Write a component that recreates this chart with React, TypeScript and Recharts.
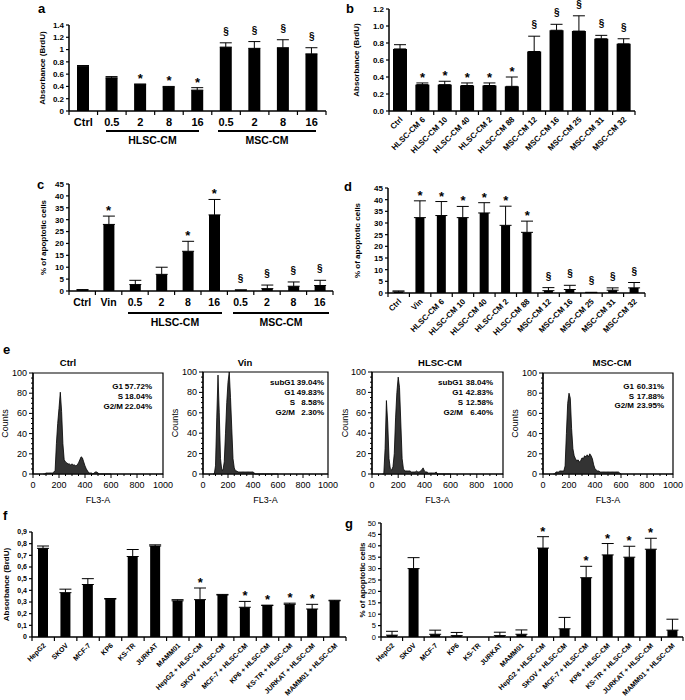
import React from "react";
import {
  ComposedChart,
  Bar,
  ErrorBar,
  Line,
  XAxis,
  YAxis,
  AreaChart,
  Area,
  ReferenceArea,
} from "recharts";

const FONT = '"Liberation Sans", Arial, Helvetica, sans-serif';

// ---- a: BrdU with HLSC-CM / MSC-CM doses
const aLabels = ["Ctrl", "0.5", "2", "8", "16", "0.5", "2", "8", "16"];
const aValues = [0.73, 0.54, 0.43, 0.39, 0.34, 1.04, 1.02, 1.03, 0.93];
const aErrors = [0.01, 0.02, 0.01, 0.01, 0.04, 0.07, 0.11, 0.13, 0.1];
const aMarks = ["", "", "*", "*", "*", "§", "§", "§", "§"];
const aTicks = [0, 0.2, 0.4, 0.6, 0.8, 1, 1.2, 1.4];

// ---- b: BrdU with single preparations
const bLabels = [
  "Ctrl", "HLSC-CM 6", "HLSC-CM 10", "HLSC-CM 40", "HLSC-CM 2", "HLSC-CM 88",
  "MSC-CM 12", "MSC-CM 16", "MSC-CM 25", "MSC-CM 31", "MSC-CM 32",
];
const bValues = [0.73, 0.31, 0.31, 0.3, 0.3, 0.29, 0.7, 0.95, 0.94, 0.85, 0.79];
const bErrors = [0.05, 0.02, 0.04, 0.03, 0.03, 0.11, 0.18, 0.07, 0.18, 0.04, 0.06];
const bMarks = ["", "*", "*", "*", "*", "*", "§", "§", "§", "§", "§"];
const bTicks = [0, 0.2, 0.4, 0.6, 0.8, 1, 1.2];

// ---- c: apoptosis with doses
const cLabels = ["Ctrl", "Vin", "0.5", "2", "8", "16", "0.5", "2", "8", "16"];
const cValues = [0.3, 28, 2.7, 7, 16.7, 32, 0.3, 1, 2, 2.3];
const cErrors = [0.3, 3.5, 1.8, 3, 4.2, 6.5, 0.2, 1.5, 1.8, 2.2];
const cMarks = ["", "*", "", "", "*", "*", "§", "§", "§", "§"];
const pctTicks = [0, 5, 10, 15, 20, 25, 30, 35, 40, 45];

// ---- d: apoptosis with single preparations
const dLabels = [
  "Ctrl", "Vin", "HLSC-CM 6", "HLSC-CM 10", "HLSC-CM 40", "HLSC-CM 2", "HLSC-CM 88",
  "MSC-CM 12", "MSC-CM 16", "MSC-CM 25", "MSC-CM 31", "MSC-CM 32",
];
const dValues = [0.5, 32.3, 33.2, 32.3, 34.3, 29, 26, 1, 1.5, 0.2, 1.2, 2.2];
const dErrors = [0.4, 7.2, 6, 4.8, 4.4, 8.2, 4.8, 1.3, 1.8, 0.1, 1, 2.3];
const dMarks = ["", "*", "*", "*", "*", "*", "*", "§", "§", "§", "§", "§"];

// ---- f / g: tumour cell lines
const cellLines = [
  "HepG2", "SKOV", "MCF-7", "KP6", "KS-TR", "JURKAT", "MAMM01",
  "HepG2 + HLSC-CM", "SKOV + HLSC-CM", "MCF-7 + HLSC-CM", "KP6 + HLSC-CM",
  "KS-TR + HLSC-CM", "JURKAT + HLSC-CM", "MAMM01 + HLSC-CM",
];
const fValues = [0.76, 0.38, 0.45, 0.325, 0.69, 0.78, 0.31, 0.32, 0.36, 0.255, 0.27, 0.28, 0.24, 0.31];
const fErrors = [0.02, 0.03, 0.05, 0.005, 0.06, 0.01, 0.01, 0.1, 0.005, 0.05, 0.003, 0.01, 0.04, 0.005];
const fTicks = [0, 0.1, 0.2, 0.3, 0.4, 0.5, 0.6, 0.7, 0.8, 0.9];
const gValues = [0.8, 30, 1.2, 0.6, 0, 0.6, 1.2, 39, 3.6, 26, 36, 35, 38.5, 3];
const gErrors = [1.7, 4.8, 1.8, 1.4, 1.2, 1.5, 1.9, 5, 5, 5, 5, 4.8, 4.8, 4.8];
const cellMarks = ["", "", "", "", "", "", "", "*", "", "*", "*", "*", "*", ""];
const gTicks = [0, 5, 10, 15, 20, 25, 30, 35, 40, 45, 50];

// ---- e: cell cycle histograms (FL3-A bins, counts)
const histBins = [
  80, 90, 100, 110, 120, 130, 140, 150, 160, 170, 180, 190, 200, 210, 220, 230, 240, 250,
  260, 270, 280, 290, 300, 310, 320, 330, 340, 350, 360, 370, 380, 390, 400, 410, 420, 430,
  440, 450, 460, 470, 480, 490, 500, 510, 520, 530, 540, 550, 560, 570, 580, 590, 600,
];
const ctrlCounts = [
  0, 0, 1, 1, 1, 1, 1, 1, 2, 3, 30, 50, 65, 81, 62, 30, 14, 12,
  11, 10, 10, 9, 10, 9, 9, 8, 9, 11, 14, 17, 16, 12, 8, 5, 3, 1,
  1, 1, 0, 1, 2, 2, 1, 0, 0, 0, 0, 0, 0, 0, 0, 0, 0,
];
const vinCounts = [
  0, 0, 8, 55, 97, 60, 15, 4, 4, 12, 40, 70, 90, 100, 75, 45, 15, 6,
  3, 3, 2, 2, 2, 2, 2, 2, 2, 2, 2, 2, 2, 2, 2, 1, 0, 0,
  0, 0, 0, 0, 0, 0, 0, 0, 0, 0, 0, 0, 0, 0, 0, 0, 0,
];
const hlscCounts = [
  0, 0, 25, 72, 50, 15, 5, 4, 7, 20, 55, 80, 95, 85, 50, 15, 5, 3,
  3, 3, 3, 3, 2, 2, 2, 2, 3, 2, 2, 3, 4, 6, 3, 2, 2, 1,
  1, 1, 1, 1, 1, 2, 0, 0, 0, 0, 0, 0, 0, 0, 0, 0, 0,
];
const mscCounts = [
  0, 0, 2, 2, 2, 3, 3, 3, 3, 8, 40, 70, 80, 75, 45, 25, 18, 15,
  13, 14, 12, 13, 16, 15, 18, 17, 19, 17, 20, 18, 15, 9, 5, 4, 3, 3,
  2, 2, 2, 2, 2, 2, 2, 2, 2, 2, 2, 2, 2, 2, 2, 1, 0,
];
const histXTicks = [0, 50, 100, 150, 200, 250, 300, 350, 400, 450, 500, 550, 600, 650, 700, 750, 800, 850, 900, 950, 1000];
const histYTicks = [0, 5, 10, 15, 20, 25, 30, 35, 40, 45, 50, 55, 60, 65, 70, 75, 80, 85, 90, 95, 100];
const histTitles = ["Ctrl", "Vin", "HLSC-CM", "MSC-CM"];
const phaseNames = [
  ["G1", "S", "G2/M"],
  ["subG1", "G1", "S", "G2/M"],
  ["subG1", "G1", "S", "G2/M"],
  ["G1", "S", "G2/M"],
];
const phasePcts = [
  ["57.72%", "18.04%", "22.04%"],
  ["39.04%", "49.83%", "8.58%", "2.30%"],
  ["38.04%", "42.83%", "12.58%", "6.40%"],
  ["60.31%", "17.88%", "23.95%"],
];

type Row = { key: string; label: string; value: number; err: number[]; top: number; mark: string };
type Box = { left: number; top: number; width: number; height: number };
type Plot = { x0: number; x1: number; y0: number; y1: number };

const rows = (labels: string[], values: number[], errors: number[], marks: string[]): Row[] =>
  labels.map((label, i) => ({
    key: `k${i}`,
    label,
    value: values[i],
    err: [0, errors[i]],
    top: values[i] + errors[i],
    mark: marks[i],
  }));

const general = (v: number) => String(+v.toFixed(1));
const oneDec = (v: number) => v.toFixed(1);
const comma = (v: number) => (v === 0 ? "0" : v.toFixed(1).replace(".", ","));

const renderMark = (p: any) => {
  const { cx, cy, payload, index } = p;
  if (!payload || !payload.mark || cx == null || cy == null) return <g key={`m${index}`} />;
  const star = payload.mark === "*";
  return (
    <text
      key={`m${index}`}
      x={cx}
      y={star ? cy - 1 : cy - 8}
      textAnchor="middle"
      fontSize={star ? 13 : 10}
      fontWeight={700}
      fontFamily={FONT}
      fill="#000"
    >
      {payload.mark}
    </text>
  );
};

type BarPanelProps = {
  box: Box;
  plot: Plot;
  data: Row[];
  domain: [number, number];
  ticks: number[];
  fmt: (v: number) => string;
  yTitle: string;
  titleOffset: number;
  barSize: number;
  rotate: boolean;
  xFont: number;
  yFont: number;
  yBold?: boolean;
};

function BarPanel(props: BarPanelProps) {
  const { box, plot, data, domain, ticks, fmt, yTitle, titleOffset, barSize, rotate, xFont, yFont } = props;
  const yWidth = plot.x0 - box.left;
  const margin = { top: plot.y0 - box.top, right: box.left + box.width - plot.x1, left: 0, bottom: 0 };
  const xHeight = box.top + box.height - plot.y1;
  const band = (plot.x1 - plot.x0) / data.length;

  const renderTick = (p: any) => {
    const { x, y, index } = p;
    const label = data[index] ? data[index].label : "";
    const edges = index === 0 ? [x - band / 2, x + band / 2] : [x + band / 2];
    return (
      <g>
        {edges.map((ex, i) => (
          <line key={i} x1={ex} x2={ex} y1={y} y2={y + 4} stroke="#000" strokeWidth={1.2} />
        ))}
        {rotate ? (
          <text
            x={x + 3}
            y={y + 9}
            transform={`rotate(-45 ${x + 3} ${y + 9})`}
            textAnchor="end"
            fontSize={xFont}
            fontWeight={700}
            fontFamily={FONT}
            fill="#000"
          >
            {label}
          </text>
        ) : (
          <text x={x} y={y + 15} textAnchor="middle" fontSize={xFont} fontWeight={700} fontFamily={FONT} fill="#000">
            {label}
          </text>
        )}
      </g>
    );
  };

  return (
    <div style={{ position: "absolute", left: box.left, top: box.top }}>
      <ComposedChart width={box.width} height={box.height} data={data} margin={margin}>
        <XAxis
          dataKey="key"
          type="category"
          interval={0}
          height={xHeight}
          tickLine={false}
          tickSize={0}
          tickMargin={0}
          axisLine={{ stroke: "#000", strokeWidth: 1.5 }}
          tick={renderTick}
        />
        <YAxis
          type="number"
          domain={domain}
          ticks={ticks}
          interval={0}
          width={yWidth}
          tickSize={3}
          tickMargin={2}
          tickFormatter={fmt}
          axisLine={{ stroke: "#000", strokeWidth: 1.5 }}
          tickLine={{ stroke: "#000", strokeWidth: 1.2 }}
          tick={{ fontSize: yFont, fontWeight: props.yBold === false ? 400 : 700, fill: "#000", fontFamily: FONT }}
          label={{
            value: yTitle,
            angle: -90,
            position: "insideLeft",
            offset: titleOffset,
            style: { textAnchor: "middle", fontSize: 8, fontWeight: 700, fill: "#000", fontFamily: FONT },
          }}
        />
        <Bar dataKey="value" fill="#000" barSize={barSize} isAnimationActive={false}>
          <ErrorBar dataKey="err" direction="y" width={6} stroke="#000" strokeWidth={1} />
        </Bar>
        <Line
          dataKey="top"
          stroke="none"
          dot={renderMark}
          activeDot={false}
          legendType="none"
          isAnimationActive={false}
        />
      </ComposedChart>
    </div>
  );
}

type HistProps = { box: Box; plot: Plot; counts: number[] };

function HistPanel({ box, plot, counts }: HistProps) {
  const data = histBins.map((x, i) => ({ x, n: counts[i] }));
  const yWidth = plot.x0 - box.left;
  const margin = { top: plot.y0 - box.top, right: box.left + box.width - plot.x1, left: 0, bottom: 0 };
  const xHeight = box.top + box.height - plot.y1;

  const xTick = (p: any) => {
    const v = p.payload.value;
    const major = v % 200 === 0;
    return (
      <g>
        <line x1={p.x} x2={p.x} y1={p.y} y2={p.y + (major ? 4 : 2)} stroke="#000" />
        {major && (
          <text x={p.x} y={p.y + 14} textAnchor="middle" fontSize={9} fontFamily={FONT} fill="#000">
            {v}
          </text>
        )}
      </g>
    );
  };
  const yTick = (p: any) => {
    const v = p.payload.value;
    const major = v % 20 === 0;
    return (
      <g>
        <line x1={p.x} x2={p.x - (major ? 4 : 2)} y1={p.y} y2={p.y} stroke="#000" />
        {major && (
          <text x={p.x - 6} y={p.y + 3} textAnchor="end" fontSize={9} fontFamily={FONT} fill="#000">
            {v}
          </text>
        )}
      </g>
    );
  };

  return (
    <div style={{ position: "absolute", left: box.left, top: box.top }}>
      <AreaChart width={box.width} height={box.height} data={data} margin={margin}>
        <XAxis
          dataKey="x"
          type="number"
          domain={[0, 1000]}
          ticks={histXTicks}
          interval={0}
          height={xHeight}
          tickLine={false}
          tickSize={0}
          tickMargin={0}
          axisLine={{ stroke: "#000", strokeWidth: 1.2 }}
          tick={xTick}
          label={{ value: "FL3-A", position: "insideBottom", offset: 7, style: { fontSize: 9, fill: "#000", fontFamily: FONT } }}
        />
        <YAxis
          type="number"
          domain={[0, 100]}
          ticks={histYTicks}
          interval={0}
          width={yWidth}
          tickLine={false}
          tickSize={0}
          tickMargin={0}
          axisLine={{ stroke: "#000", strokeWidth: 1.2 }}
          tick={yTick}
          label={{
            value: "Counts",
            angle: -90,
            position: "insideLeft",
            offset: 5,
            style: { textAnchor: "middle", fontSize: 9, fill: "#000", fontFamily: FONT },
          }}
        />
        <ReferenceArea x1={0} x2={1000} y1={0} y2={100} fill="none" stroke="#000" strokeWidth={1.2} />
        <Area
          dataKey="n"
          type="linear"
          fill="#333"
          fillOpacity={1}
          stroke="#000"
          strokeWidth={0.8}
          dot={false}
          activeDot={false}
          isAnimationActive={false}
        />
      </AreaChart>
    </div>
  );
}

const histLayout = [
  { box: { left: 0, top: 355, width: 180, height: 155 }, plot: { x0: 33, x1: 163, y0: 373, y1: 474 }, counts: ctrlCounts, titleX: 68, nameX: 123, pctX: 152, y0: 389, step: 10 },
  { box: { left: 170, top: 355, width: 175, height: 155 }, plot: { x0: 203, x1: 328, y0: 372, y1: 474 }, counts: vinCounts, titleX: 245, nameX: 295, pctX: 324, y0: 385, step: 10 },
  { box: { left: 340, top: 355, width: 180, height: 155 }, plot: { x0: 372, x1: 503, y0: 372, y1: 474 }, counts: hlscCounts, titleX: 440, nameX: 463, pctX: 493, y0: 385, step: 10 },
  { box: { left: 510, top: 355, width: 175, height: 155 }, plot: { x0: 543, x1: 673, y0: 373, y1: 474 }, counts: mscCounts, titleX: 612, nameX: 634, pctX: 664, y0: 389, step: 9.5 },
];

const letters: [string, number, number][] = [
  ["a", 38, 13], ["b", 346, 13], ["c", 37, 189], ["d", 344, 191],
  ["e", 3, 354], ["f", 3, 520], ["g", 345, 528],
];

const groups: [string, number, number, number, number][] = [
  // label, x from, x to, line y, text y
  ["HLSC-CM", 106, 199, 131, 144],
  ["MSC-CM", 218, 316, 131, 144],
  ["HLSC-CM", 128, 222, 313, 326],
  ["MSC-CM", 233, 329, 313, 326],
];

export default function App() {
  return (
    <div style={{ position: "absolute", left: 0, top: 0, width: 685, height: 700, background: "#fff", overflow: "hidden", fontFamily: FONT }}>
      <BarPanel
        box={{ left: 0, top: 0, width: 340, height: 150 }}
        plot={{ x0: 69, x1: 326, y0: 25, y1: 111 }}
        data={rows(aLabels, aValues, aErrors, aMarks)}
        domain={[0, 1.4]}
        ticks={aTicks}
        fmt={general}
        yTitle="Absorbance (BrdU)"
        titleOffset={42}
        barSize={12}
        rotate={false}
        xFont={11}
        yFont={8}
      />
      <BarPanel
        box={{ left: 340, top: 0, width: 345, height: 175 }}
        plot={{ x0: 389, x1: 635, y0: 9, y1: 111 }}
        data={rows(bLabels, bValues, bErrors, bMarks)}
        domain={[0, 1.2]}
        ticks={bTicks}
        fmt={oneDec}
        yTitle="Absorbance (BrdU)"
        titleOffset={16}
        barSize={14}
        rotate={true}
        xFont={8}
        yFont={8}
      />
      <BarPanel
        box={{ left: 0, top: 170, width: 340, height: 160 }}
        plot={{ x0: 69, x1: 333, y0: 184, y1: 291 }}
        data={rows(cLabels, cValues, cErrors, cMarks)}
        domain={[0, 45]}
        ticks={pctTicks}
        fmt={general}
        yTitle="% of apoptotic cells"
        titleOffset={43}
        barSize={11}
        rotate={false}
        xFont={10.5}
        yFont={8}
      />
      <BarPanel
        box={{ left: 340, top: 170, width: 345, height: 190 }}
        plot={{ x0: 388, x1: 645, y0: 188, y1: 293 }}
        data={rows(dLabels, dValues, dErrors, dMarks)}
        domain={[0, 45]}
        ticks={pctTicks}
        fmt={general}
        yTitle="% of apoptotic cells"
        titleOffset={17}
        barSize={9}
        rotate={true}
        xFont={8}
        yFont={8}
      />
      {histLayout.map((h, i) => (
        <HistPanel key={i} box={h.box} plot={h.plot} counts={h.counts} />
      ))}
      <BarPanel
        box={{ left: 0, top: 510, width: 350, height: 190 }}
        plot={{ x0: 32, x1: 346, y0: 532, y1: 637 }}
        data={rows(cellLines, fValues, fErrors, cellMarks)}
        domain={[0, 0.9]}
        ticks={fTicks}
        fmt={comma}
        yTitle="Absorbance (BrdU)"
        titleOffset={6}
        barSize={10}
        rotate={true}
        xFont={7}
        yFont={7}
      />
      <BarPanel
        box={{ left: 340, top: 510, width: 345, height: 190 }}
        plot={{ x0: 381, x1: 683, y0: 523, y1: 637 }}
        data={rows(cellLines, gValues, gErrors, cellMarks)}
        domain={[0, 50]}
        ticks={gTicks}
        fmt={general}
        yTitle="% of apoptotic cells"
        titleOffset={22}
        barSize={10}
        rotate={true}
        xFont={7}
        yFont={7.5}
        yBold={false}
      />
      <svg
        width={685}
        height={700}
        style={{ position: "absolute", left: 0, top: 0, pointerEvents: "none" }}
        fontFamily={FONT}
      >
        {letters.map(([t, x, y]) => (
          <text key={t} x={x} y={y} fontSize={13} fontWeight={700} fill="#000">
            {t}
          </text>
        ))}
        {groups.map(([t, xa, xb, ly, ty], i) => (
          <g key={i}>
            <line x1={xa} x2={xb} y1={ly} y2={ly} stroke="#000" strokeWidth={2} />
            <text x={(xa + xb) / 2} y={ty} textAnchor="middle" fontSize={10.5} fontWeight={700} fill="#000">
              {t}
            </text>
          </g>
        ))}
        {histLayout.map((h, i) => (
          <g key={i}>
            <text x={h.titleX} y={366} textAnchor="middle" fontSize={9.5} fontWeight={700} fill="#000">
              {histTitles[i]}
            </text>
            {phaseNames[i].map((name, j) => (
              <g key={j}>
                <text x={h.nameX} y={h.y0 + j * h.step} textAnchor="end" fontSize={8} fontWeight={700} fill="#000">
                  {name}
                </text>
                <text x={h.pctX} y={h.y0 + j * h.step} textAnchor="end" fontSize={8} fontWeight={700} fill="#000">
                  {phasePcts[i][j]}
                </text>
              </g>
            ))}
          </g>
        ))}
      </svg>
    </div>
  );
}
